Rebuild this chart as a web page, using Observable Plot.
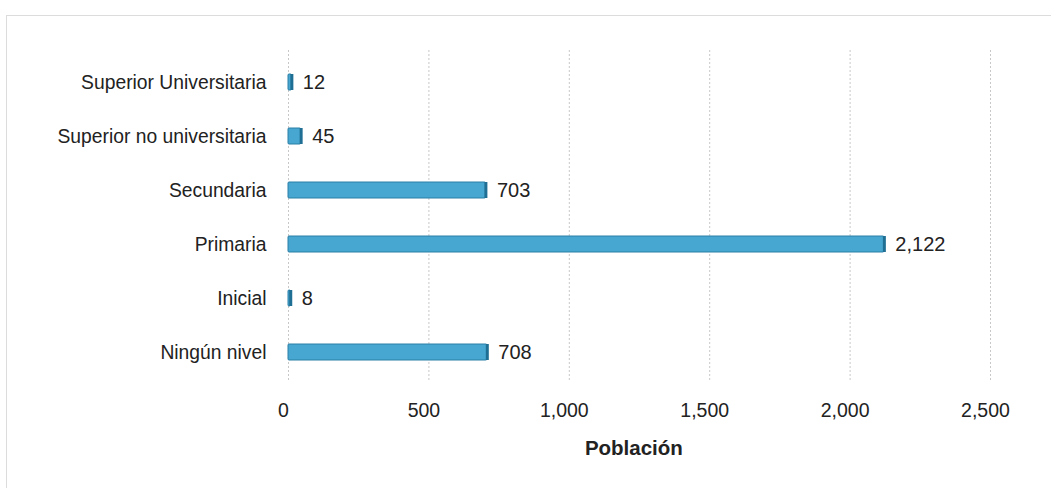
<!DOCTYPE html>
<html><head><meta charset="utf-8">
<script src="https://cdn.jsdelivr.net/npm/d3@7"></script>
<script src="https://cdn.jsdelivr.net/npm/@observablehq/plot@0.6"></script>
<style>
body{margin:0;background:#fff;overflow:hidden}
#wrap{position:relative;width:1051px;height:488px}
#border{position:absolute;left:6px;top:15px;width:1100px;height:500px;border:1px solid #dcdcdc;pointer-events:none}
</style></head><body>
<div id="wrap"><div id="border"></div></div>
<script>
const categories = ["Superior Universitaria","Superior no universitaria","Secundaria","Primaria","Inicial","Ningún nivel"];
const values = [12,45,703,2122,8,708];
const xTicks = [0,500,1000,1500,2000,2500];
const xLabel = "Población";

const data = categories.map((c,i)=>({cat:c, v:values[i]}));
const fmt = d3.format(",");

const chart = Plot.plot({
  width:1051, height:488,
  marginLeft:288, marginRight:61, marginTop:55, marginBottom:109,
  style:{fontFamily:'"Liberation Sans",Arial,sans-serif', background:"transparent"},
  x:{domain:[0,2500], ticks:xTicks, tickFormat:fmt, label:null},
  y:{domain:categories, paddingInner:0.7, paddingOuter:0.35, label:null},
  marks:[
    Plot.ruleX(xTicks,{x:d=>d, stroke:"#c8c8c8", strokeWidth:1, strokeDasharray:"2,2", insetTop:-5, insetBottom:-2}),
    Plot.barX(data,{y:"cat", x:"v", fill:"#47a7d1", stroke:"#2b7ea5", strokeWidth:1, rx:1}),
    Plot.tickX(data,{y:"cat", x:"v", stroke:"#1f6f94", strokeWidth:3}),
    Plot.text(data,{y:"cat", x:"v", text:d=>fmt(d.v), dx:11, textAnchor:"start", fontSize:20, fill:"#222"}),
    Plot.axisY({tickSize:0, tickPadding:22, fontSize:19.3, fill:"#222"}),
    Plot.axisX({ticks:xTicks, tickFormat:fmt, tickSize:0, tickPadding:24, dx:-5, fontSize:19.5, fill:"#222"}),
    Plot.text([xLabel],{frameAnchor:"bottom", x:1230, dy:75, text:d=>d, fontSize:20.5, fontWeight:"bold", fill:"#222"})
  ]
});
document.getElementById("wrap").prepend(chart);
</script></body></html>
